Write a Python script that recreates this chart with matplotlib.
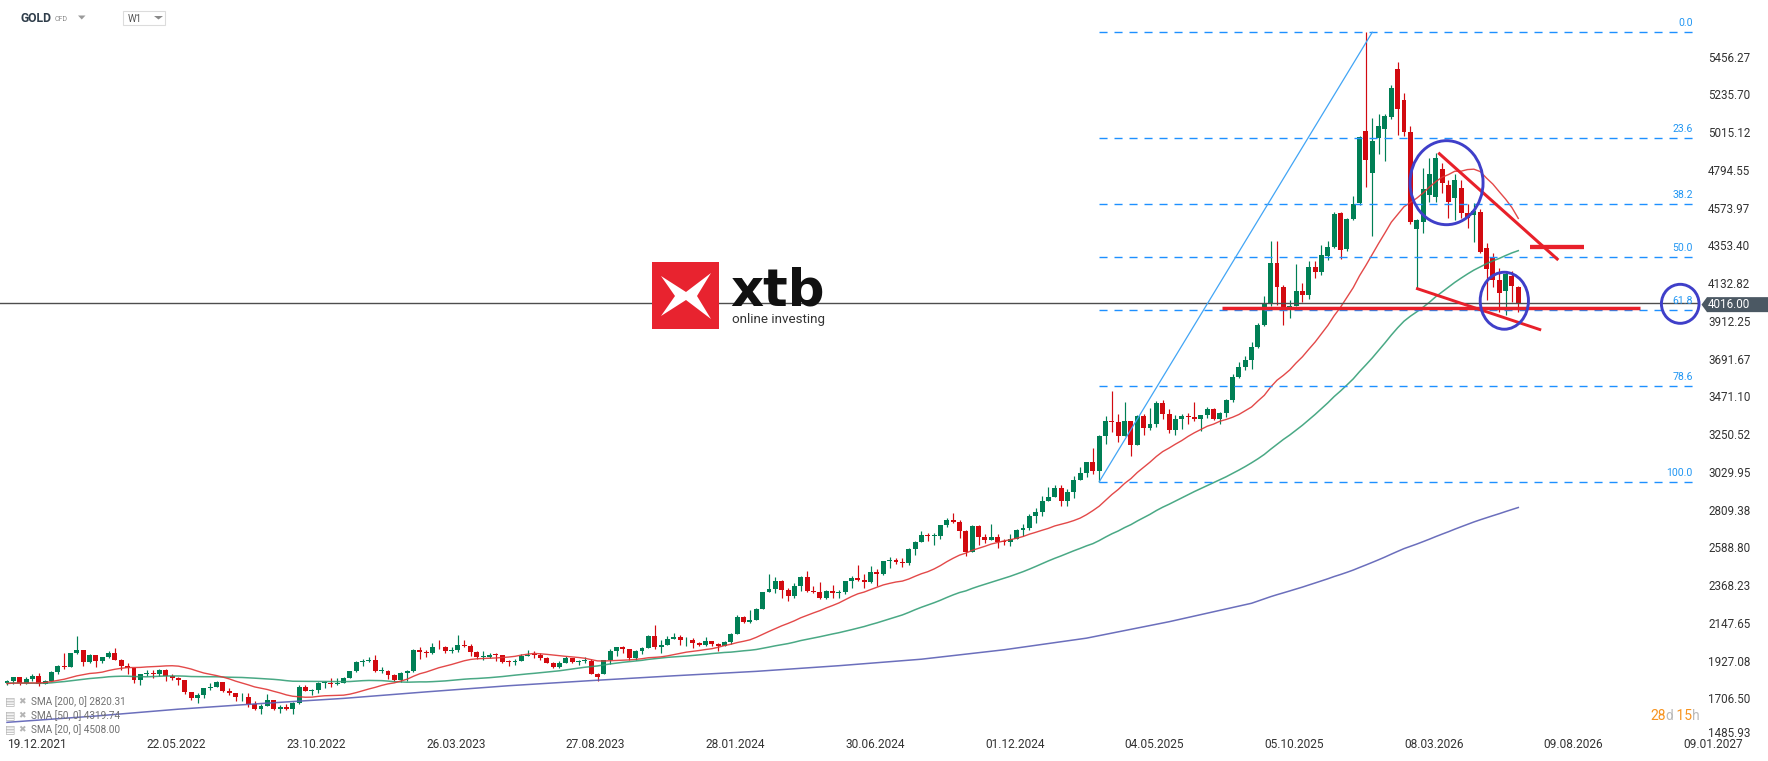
import numpy as np
import pandas as pd
import matplotlib
matplotlib.use("Agg")
import matplotlib.pyplot as plt
from matplotlib.patches import Ellipse, Polygon, Rectangle
import matplotlib.transforms as mtransforms

plt.rcParams['font.family'] = ['Roboto', 'DejaVu Sans']
plt.rcParams['lines.scale_dashes'] = False

# ---------------- data (weekly GOLD CFD, week 0 = 19.12.2021) ----------------
opens = [
 1798,1808,1829,1797,1817,1835,1791,1808,1859,1898, 1889,1970,1988,1921,1958,1925,1945,1974,1932,1896,
 1883,1811,1846,1853,1851,1871,1839,1827,1811,1742, 1708,1727,1766,1775,1802,1747,1738,1712,1716,1675,
 1643,1660,1694,1644,1657,1644,1681,1771,1751,1755, 1797,1797,1793,1798,1824,1865,1920,1926,1928,1865,
 1865,1842,1811,1856,1868,1989,1977,1969,2007,2004, 1983,1990,2016,2011,1978,1946,1948,1961,1958,1921,
 1919,1925,1955,1962,1959,1942,1914,1889,1915,1940, 1919,1924,1925,1848,1850,1932,1981,2006,1992,1940,
 1981,2002,2072,2004,2019,2053,2063,2045,2049,2029, 2018,2039,2024,2013,2035,2083,2179,2155,2165,2230,
 2329,2344,2392,2337,2302,2360,2415,2334,2327,2293, 2333,2322,2326,2391,2411,2400,2386,2443,2431,2507,
 2512,2503,2497,2578,2622,2658,2653,2657,2721,2747, 2736,2685,2563,2716,2650,2633,2648,2622,2621,2640,
 2690,2702,2770,2798,2861,2882,2936,2858,2910,2984, 3023,3085,3037,3237,3327,3319,3240,3325,3187,3357,
 3289,3310,3432,3368,3274,3337,3355,3350,3337,3363, 3398,3336,3372,3447,3586,3643,3685,3759,3886,4018,
 4251,4113,3996,4001,4085,4065,4230,4198,4290,4345, 4545,4330,4510,4600,5022,4776,4984,5034,5104,5385,
 5204,5015,4451,4492,4648,4634,4798,4706,4632,4691, 4541,4531,4550,4337,4281,4152,4087,4175,4109]
highs = [
 1812,1831,1832,1830,1848,1853,1815,1865,1902,1974, 1974,2070,1991,1966,1960,1950,1981,1998,1936,1910,
 1884,1849,1870,1874,1875,1879,1847,1830,1813,1745, 1739,1768,1795,1808,1802,1765,1740,1735,1735,1688,
 1676,1730,1698,1668,1675,1684,1787,1786,1761,1804, 1810,1824,1823,1833,1865,1922,1937,1949,1960,1891,
 1870,1847,1858,1870,1992,2009,1987,2032,2048,2015, 2009,2079,2048,2022,1985,1983,1970,1972,1959,1933,
 1935,1964,1987,1982,1970,1948,1916,1925,1953,1944, 1933,1947,1936,1853,1933,1997,2009,2010,1993,1987,
 2008,2075,2135,2047,2071,2088,2078,2062,2061,2036, 2065,2043,2031,2041,2088,2195,2185,2222,2236,2330,
 2431,2417,2396,2353,2378,2422,2450,2364,2387,2342, 2368,2339,2392,2424,2483,2432,2477,2462,2509,2531,
 2529,2529,2586,2625,2685,2672,2670,2722,2758,2790, 2750,2690,2721,2721,2665,2726,2665,2638,2665,2697,
 2726,2786,2817,2886,2942,2954,2956,2930,3004,3057, 3086,3167,3245,3357,3500,3368,3438,3330,3365,3366,
 3403,3446,3452,3398,3365,3368,3375,3438,3365,3409, 3404,3379,3453,3600,3674,3707,3791,3897,4059,4380,
 4381,4120,4033,4245,4132,4265,4264,4353,4381,4550, 4550,4515,4645,4995,5598,5097,5119,5119,5290,5427,
 5243,5051,4510,4804,4862,4895,4833,4736,4771,4736, 4596,4600,4566,4366,4308,4221,4201,4201,4119]
lows = [
 1785,1789,1782,1791,1805,1780,1788,1806,1850,1878, 1888,1966,1895,1910,1890,1915,1941,1930,1872,1850,
 1797,1786,1836,1828,1836,1805,1816,1784,1732,1697, 1681,1711,1754,1770,1745,1727,1688,1690,1654,1639,
 1615,1660,1641,1618,1639,1616,1676,1747,1727,1740, 1765,1774,1785,1797,1824,1860,1896,1917,1861,1852,
 1818,1809,1804,1809,1862,1935,1949,1968,1992,1969, 1974,1977,2008,1952,1937,1932,1940,1925,1910,1893,
 1902,1923,1951,1942,1929,1912,1885,1884,1914,1915, 1901,1913,1846,1810,1850,1908,1953,1969,1932,1931,
 1965,2001,1993,1973,2016,2052,2016,2013,2002,2011, 2015,2015,1984,2011,2025,2083,2146,2145,2163,2228,
 2325,2324,2291,2277,2291,2336,2325,2321,2286,2287, 2295,2293,2318,2351,2392,2353,2380,2364,2430,2470,
 2489,2471,2485,2546,2622,2624,2603,2637,2708,2730, 2643,2536,2563,2605,2613,2629,2583,2605,2596,2635,
 2657,2690,2730,2770,2860,2882,2832,2832,2880,2982, 3000,3015,2968,3193,3260,3202,3240,3120,3185,3245,
 3275,3295,3340,3255,3247,3283,3310,3325,3268,3345, 3331,3311,3351,3436,3578,3627,3629,3755,3885,4000,
 4004,3886,3930,3997,4022,4040,4160,4180,4270,4340, 4275,4320,4500,4590,4695,4408,4886,4849,5090,5000,
 4993,4478,4103,4424,4608,4606,4661,4512,4502,4512, 4456,4375,4308,4034,4110,3966,3947,4025,3966]
closes = [
 1808,1829,1797,1817,1835,1791,1808,1859,1898,1889, 1970,1988,1921,1958,1925,1945,1974,1932,1896,1883,
 1811,1846,1853,1851,1871,1839,1827,1811,1742,1708, 1727,1766,1775,1802,1747,1738,1712,1716,1675,1643,
 1660,1694,1644,1657,1644,1681,1771,1751,1755,1797, 1797,1793,1798,1824,1865,1920,1926,1928,1865,1865,
 1842,1811,1856,1868,1989,1977,1969,2007,2004,1983, 1990,2016,2011,1978,1946,1948,1961,1958,1921,1919,
 1925,1955,1962,1959,1942,1914,1889,1915,1940,1919, 1924,1925,1848,1832,1932,1981,2006,1992,1940,1981,
 2002,2072,2004,2019,2053,2063,2045,2049,2029,2018, 2039,2024,2013,2035,2083,2179,2155,2165,2230,2329,
 2344,2392,2337,2302,2360,2415,2334,2327,2293,2333, 2322,2326,2391,2411,2400,2386,2443,2431,2507,2512,
 2503,2497,2578,2622,2658,2653,2657,2721,2747,2736, 2685,2563,2716,2650,2633,2648,2622,2621,2640,2690,
 2702,2770,2798,2861,2882,2936,2858,2910,2984,3023, 3085,3037,3237,3327,3319,3240,3325,3187,3357,3289,
 3310,3432,3368,3274,3337,3355,3350,3337,3363,3398, 3336,3372,3447,3586,3643,3685,3759,3886,4018,4251,
 4113,3996,4001,4085,4065,4230,4198,4300,4345,4535, 4325,4510,4595,4985,4852,4963,5049,5109,5275,5152,
 5018,4492,4502,4683,4770,4862,4716,4608,4736,4544, 4512,4556,4317,4213,4152,4074,4187,4116,4016]
# weekly closes of the 49 weeks before the first candle (for the moving averages)
prior_closes = [
 1828,1856,1848,1814,1824,1784,1734,1700,1727,1745, 1733,1729,1744,1777,1777,1769,1831,1844,1881,1903,
 1892,1877,1764,1781,1787,1808,1815,1802,1814,1763, 1780,1781,1818,1827,1788,1754,1750,1761,1757,1768,
 1796,1783,1818,1864,1846,1788,1783,1783,1798]
# SMA 200 (before enough visible candles exist to compute it)
sma200_weeks = [0, 14, 27, 40, 53, 66, 79, 92, 105, 118, 131, 144, 157, 170, 183, 196]
sma200_vals = [1566, 1603, 1643, 1676, 1706, 1744, 1780, 1810, 1838, 1864, 1897, 1935, 1990, 2058, 2154, 2262]

date_labels = ["19.12.2021", "22.05.2022", "23.10.2022", "26.03.2023", "27.08.2023",
               "28.01.2024", "30.06.2024", "01.12.2024", "04.05.2025", "05.10.2025",
               "08.03.2026", "09.08.2026", "09.01.2027"]
date_weeks = [0, 22, 44, 66, 88, 110, 132, 154, 176, 198, 220, 242, 264]
price_ticks = [5456.27, 5235.70, 5015.12, 4794.55, 4573.97, 4353.40, 4132.82, 3912.25,
               3691.67, 3471.10, 3250.52, 3029.95, 2809.38, 2588.80, 2368.23, 2147.65,
               1927.08, 1706.50, 1485.93]
legend_texts = ["SMA [200, 0] 2820.31", "SMA [50, 0] 4319.74", "SMA [20, 0] 4508.00"]

# Fibonacci drawing
fib_low, fib_high = 2972, 5599
fib_low_week, fib_high_week, fib_end_week = 172, 215, 265.8
fib_levels = [0.0, 23.6, 38.2, 50.0, 61.8, 78.6, 100.0]

# user drawings (week, price)
red_support = [(191.3, 3986), (257.2, 3986)]
red_lower = [(221.9, 4103), (241.6, 3859)]
red_upper = [(225.4, 4895), (244.3, 4268)]
red_short = [(239.8, 4346), (248.3, 4346)]
circles = [((226.7, 4720), 11.5, 491), ((235.8, 4030), 7.6, 333), ((263.5, 4012), 5.92, 228)]

# ---------------- styling ----------------
GREEN = '#007f55'
RED = '#d20a10'
FIB = '#1e90ff'
W, H = 1768, 761
AX_R, AX_B = 1700, 737
X0, DX = 7.0, 6.35
Y0, P0, PPX = 56.7, 5456.27, 5.8444

fig = plt.figure(figsize=(W / 100, H / 100), dpi=100)
fig.patch.set_facecolor('white')
ax = fig.add_axes([0, (H - AX_B) / H, AX_R / W, AX_B / H])
ax.set_xlim((0 - X0) / DX, (AX_R - X0) / DX)
ax.set_ylim(P0 - (AX_B - Y0) * PPX, P0 + Y0 * PPX)
for s in ax.spines.values():
    s.set_visible(False)
ax.set_facecolor('white')

o = np.array(opens, float); h = np.array(highs, float)
l = np.array(lows, float); c = np.array(closes, float)
wk = np.arange(len(c))
up = c >= o
cols = np.where(up, GREEN, RED)
ax.vlines(wk, l, h, colors=cols, linewidth=0.85, zorder=3)
body_bot = np.minimum(o, c)
body_h = np.maximum(np.abs(c - o), 5)
ax.bar(wk, body_h, width=0.78, bottom=body_bot, color=cols, linewidth=0, zorder=4)

# moving averages
allc = pd.Series(prior_closes + closes, dtype=float)
n0 = len(prior_closes)
sma20 = allc.rolling(20).mean().values[n0:]
sma50 = allc.rolling(50).mean().values[n0:]
roll200 = pd.Series(closes, dtype=float).rolling(200).mean().values
w200 = list(sma200_weeks) + list(range(199, len(closes)))
v200 = list(sma200_vals) + list(roll200[199:])
ax.plot(wk, sma50, color='#2a9a70', lw=1.1, alpha=0.85, zorder=5)
ax.plot(wk, sma20, color='#e03535', lw=1.0, alpha=0.9, zorder=5)
ax.plot(w200, v200, color='#5b5fb5', lw=1.1, alpha=0.9, zorder=5)

# current price line
ax.axhline(closes[-1], color='#4d4d4d', lw=1.0, zorder=6)

# fibonacci
for r in fib_levels:
    p = fib_high - r / 100 * (fib_high - fib_low)
    ax.plot([fib_low_week, fib_end_week], [p, p], color=FIB, lw=1.0, dashes=(5.8, 5.0), zorder=6)
    ax.annotate(f"{r:.1f}", xy=(fib_end_week, p), xytext=(-2, 9), textcoords='offset pixels',
                ha='right', va='center', fontsize=7.6, color='#2196f3', zorder=7)
ax.plot([fib_low_week, fib_high_week], [fib_low, fib_high], color='#42a5f5', lw=0.9, zorder=6)

# red drawings
for seg, lw in [(red_support, 2.5), (red_lower, 2.1), (red_upper, 2.2), (red_short, 3.1)]:
    xs, ys = zip(*seg)
    ax.plot(xs, ys, color='#e8202a', lw=lw, solid_capstyle='butt', zorder=8)
for (cx, cy), ww, hh in circles:
    ax.add_patch(Ellipse((cx, cy), ww, hh, fill=False, edgecolor='#3f3fc9', lw=2.1,
                         zorder=9, clip_on=False))

# axes ticks
ax.yaxis.tick_right()
ax.set_yticks(price_ticks)
ax.set_yticklabels([f"{v:.2f}" for v in price_ticks])
ax.tick_params(axis='y', length=0, pad=5.8, labelsize=8.4, labelcolor='#333333')
ylabs = ax.get_yticklabels()
ylabs[-1].set_transform(ylabs[-1].get_transform() +
                        mtransforms.ScaledTranslation(0, 3.1 / 72, fig.dpi_scale_trans))
ax.set_xticks(date_weeks)
ax.set_xticklabels(date_labels)
ax.tick_params(axis='x', length=0, pad=0.6, labelsize=8.6, labelcolor='#333333')
for lab in ax.get_xticklabels():
    lab.set_ha('left')

# ---------------- overlay (pixel coordinates) ----------------
ov = fig.add_axes([0, 0, 1, 1], zorder=10)
ov.set_xlim(0, W); ov.set_ylim(H, 0); ov.axis('off'); ov.patch.set_alpha(0)

# header
ov.text(20.5, 18.3, "GOLD", fontsize=8.7, fontweight='bold', color='#2f3d4a', va='center', ha='left')
ov.text(55, 19.3, "CFD", fontsize=5, color='#8a8a8a', va='center', ha='left')
ov.add_patch(Polygon([(78, 15.5), (85.5, 15.5), (81.75, 19.5)], closed=True, color='#9a9a9a', lw=0))
ov.add_patch(Rectangle((122.5, 11), 42.5, 14, fill=False, edgecolor='#dcdcdc', lw=0.8))
ov.text(128, 18.6, "W1", fontsize=7, color='#555555', va='center', ha='left')
ov.add_patch(Polygon([(154, 16), (163, 16), (158.5, 19.5)], closed=True, color='#8a8a8a', lw=0))

# logo
ov.add_patch(Rectangle((652, 262), 67, 67, color='#e8232f', lw=0))
ov.add_patch(Polygon([(661, 276), (686, 292), (711, 273), (697, 296), (711, 319), (686, 300),
                      (661, 316), (675, 296)], closed=True, color='white', lw=0))
ov.text(730, 306, "xtb", fontsize=37, fontweight='bold', color='#111111', va='baseline', ha='left',
        family='DejaVu Sans')
ov.text(732, 320, "online investing", fontsize=9.6, color='#333333', va='center', ha='left')

# legend rows
for i, t in enumerate(legend_texts):
    yy = 701.7 + i * 13.8
    ov.text(5.5, yy, "\u25a4", fontsize=8, color='#b4b4b4', va='center', ha='left', family='DejaVu Sans')
    ov.text(18.5, yy, "\u2716", fontsize=6.5, color='#b4b4b4', va='center', ha='left', family='DejaVu Sans')
    ov.text(31, yy, t, fontsize=7.2, color='#707070', va='center', ha='left')

# price box
yp = H - ax.transData.transform((0, closes[-1]))[1] + 1.5
ov.add_patch(Polygon([(1701.5, yp), (1707, yp - 7.5), (1768, yp - 7.5), (1768, yp + 7.5), (1707, yp + 7.5)],
                     closed=True, color='#4b5863', lw=0))
ov.text(1708, yp, f"{closes[-1]:.2f}", fontsize=8.4, color='white', va='center', ha='left')

# countdown
fig.canvas.draw()
rend = fig.canvas.get_renderer()
xx = 1650
for part, colr in [("28", '#f7931e'), ("d", '#bbbbbb'), (" 15", '#f7931e'), ("h", '#bbbbbb')]:
    tt = ov.text(xx, 716, part, fontsize=10, color=colr, va='center', ha='left', fontstretch='condensed')
    bb = tt.get_window_extent(renderer=rend)
    xx += bb.width

fig.savefig("out.png", dpi=100, facecolor='white')
